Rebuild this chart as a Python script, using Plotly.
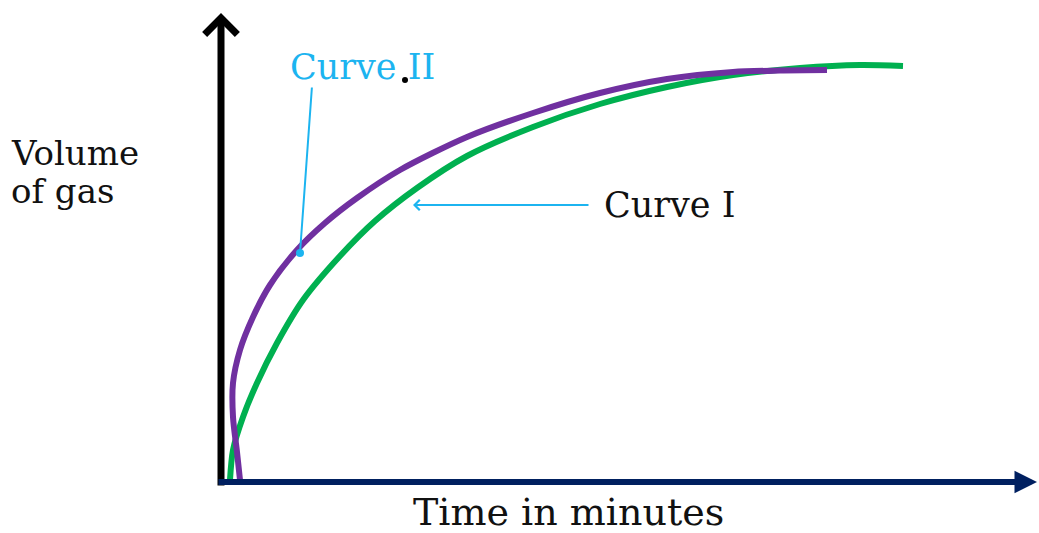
import plotly.graph_objects as go

# ---- data (time in minutes, volume of gas in arbitrary units) ----
curve1_time = [1.0, 1.3, 2.3, 3.7, 5.7, 8.3, 12.0, 15.5, 19.7, 24.7, 31.3, 38.0, 44.7, 51.3, 58.0, 64.0, 68.3]
curve1_volume = [0.3, 3.3, 6.6, 10.0, 14.0, 18.3, 22.7, 26.2, 29.5, 32.7, 35.6, 37.9, 39.6, 40.8, 41.5, 41.8, 41.7]

curve2_time = [2.0, 1.7, 1.3, 1.3, 2.0, 3.3, 5.0, 7.7, 10.5, 13.7, 18.0, 24.7, 31.3, 38.0, 44.7, 51.3, 56.0, 60.7]
curve2_volume = [0.3, 3.1, 6.6, 10.0, 13.3, 16.6, 19.8, 23.3, 26.0, 28.5, 31.3, 34.6, 37.0, 39.0, 40.4, 41.1, 41.25, 41.3]

label_curve1 = "Curve I"
label_curve2 = "Curve II"
x_label = "Time in minutes"
y_label_lines = ["Volume", "of gas"]

# ---- helpers converting pixel layout positions into axis units ----
def X(px):
    return (px - 220) / 10.0

def Y(py):
    return (483 - py) / 10.0

PURPLE = "#7030A0"
GREEN = "#00B050"
NAVY = "#002060"
LIGHTBLUE = "#1CB4F0"
FONT = "DejaVu Serif"

fig = go.Figure()
fig.add_trace(go.Scatter(x=curve1_time, y=curve1_volume, mode="lines",
                         line=dict(color=GREEN, width=6, shape="spline", smoothing=0.8),
                         name=label_curve1, showlegend=False, hoverinfo="skip"))
fig.add_trace(go.Scatter(x=curve2_time, y=curve2_volume, mode="lines",
                         line=dict(color=PURPLE, width=6, shape="spline", smoothing=0.8),
                         name=label_curve2, showlegend=False, hoverinfo="skip"))

annotations = [
    # vertical axis arrow
    dict(x=X(221), y=Y(13), ax=X(221), ay=Y(487), xref="x", yref="y", axref="x", ayref="y",
         text="", showarrow=True, arrowhead=4, arrowwidth=7, arrowsize=0.9, arrowcolor="#000000"),
    # horizontal axis arrow
    dict(x=X(1037), y=Y(482), ax=X(217), ay=Y(482), xref="x", yref="y", axref="x", ayref="y",
         text="", showarrow=True, arrowhead=2, arrowwidth=6, arrowsize=0.75, arrowcolor=NAVY),
    # Curve I pointer
    dict(x=X(413), y=Y(205), ax=X(590), ay=Y(205), xref="x", yref="y", axref="x", ayref="y",
         text="", showarrow=True, arrowhead=4, arrowwidth=2, arrowsize=1.0, arrowcolor=LIGHTBLUE),
    # Curve II pointer
    dict(x=X(300), y=Y(253), ax=X(312), ay=Y(86), xref="x", yref="y", axref="x", ayref="y",
         text="", showarrow=True, arrowhead=6, arrowwidth=2, arrowsize=1.0, arrowcolor=LIGHTBLUE),
    # texts
    dict(x=X(288), y=Y(67), xref="x", yref="y", text=label_curve2, showarrow=False,
         xanchor="left", yanchor="middle", font=dict(family=FONT, size=35, color=LIGHTBLUE)),
    dict(x=X(602), y=Y(205), xref="x", yref="y", text=label_curve1, showarrow=False,
         xanchor="left", yanchor="middle", font=dict(family=FONT, size=35, color="#111111")),
    dict(x=X(9), y=Y(153), xref="x", yref="y", text=y_label_lines[0], showarrow=False, height=38,
         xanchor="left", yanchor="middle", font=dict(family=FONT, size=34, color="#111111")),
    dict(x=X(9), y=Y(191), xref="x", yref="y", text=y_label_lines[1], showarrow=False, height=38,
         xanchor="left", yanchor="middle", font=dict(family=FONT, size=34, color="#111111")),
    dict(x=X(411), y=Y(512), xref="x", yref="y", text=x_label, showarrow=False,
         xanchor="left", yanchor="middle", font=dict(family=FONT, size=38, color="#111111")),
]

shapes = [
    dict(type="circle", xref="x", yref="y", x0=X(402), x1=X(408), y0=Y(77), y1=Y(83),
         fillcolor="#000000", line=dict(width=0)),
]

fig.update_layout(
    width=1039, height=533,
    margin=dict(l=0, r=0, t=0, b=0),
    paper_bgcolor="white", plot_bgcolor="white",
    xaxis=dict(range=[X(0), X(1039)], visible=False, fixedrange=True),
    yaxis=dict(range=[Y(533), Y(0)], visible=False, fixedrange=True),
    annotations=annotations, shapes=shapes,
    showlegend=False,
)

fig.write_html("out.html", config={"displayModeBar": False},
               post_script="document.body.style.margin='0';document.body.style.overflow='hidden';")
